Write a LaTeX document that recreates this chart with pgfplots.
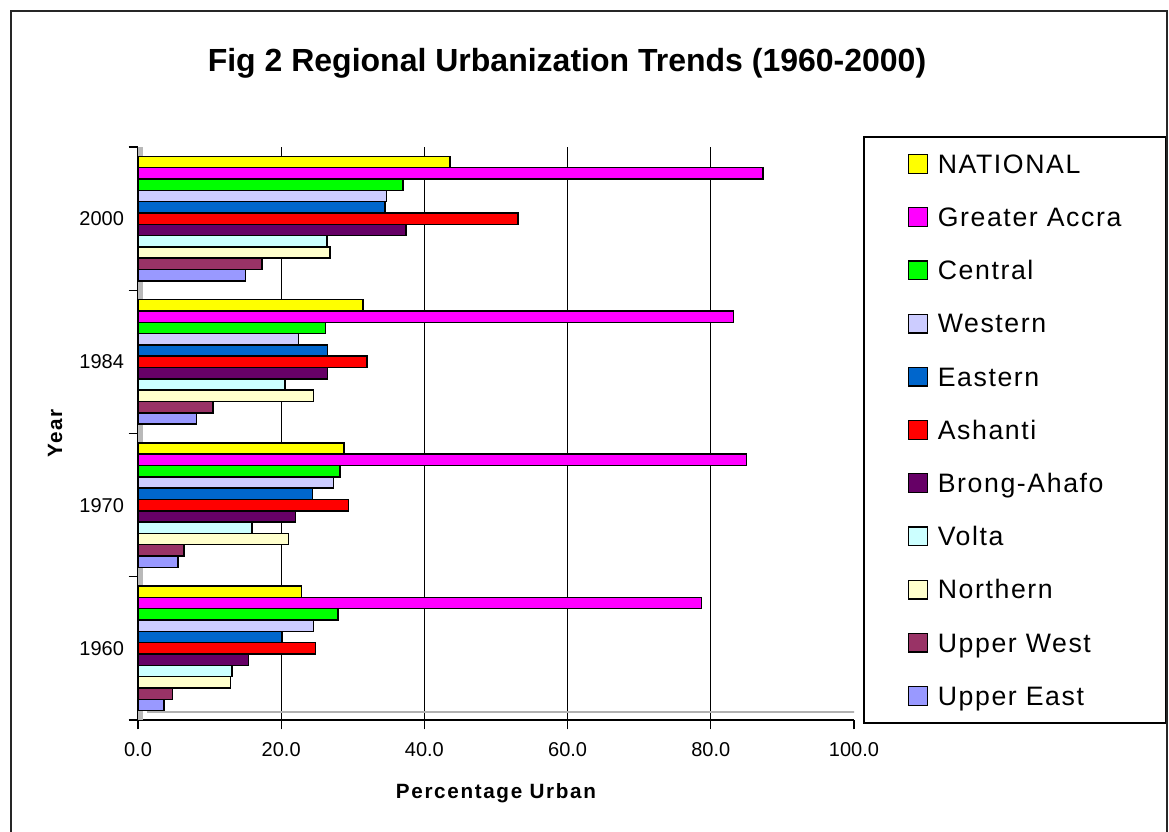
\documentclass[border=0pt]{standalone}
\usepackage{fontspec}
\setmainfont{Liberation Sans}
\usepackage{pgfplots}
\usepackage{pgfplotstable}
\pgfplotsset{compat=1.18}

\definecolor{cNAT}{HTML}{FFFF00}
\definecolor{cGA}{HTML}{FF00FF}
\definecolor{cCEN}{HTML}{00FF00}
\definecolor{cWES}{HTML}{CCCCFF}
\definecolor{cEAS}{HTML}{0066CC}
\definecolor{cASH}{HTML}{FF0000}
\definecolor{cBA}{HTML}{660066}
\definecolor{cVOL}{HTML}{CCFFFF}
\definecolor{cNOR}{HTML}{FFFFCC}
\definecolor{cUW}{HTML}{993366}
\definecolor{cUE}{HTML}{9999FF}

% year index: 0=1960, 1=1970, 2=1984, 3=2000
\pgfplotstableread{
year NAT  GA   CEN  WES  EAS  ASH  BA   VOL  NOR  UW   UE
0    22.8 78.7 27.9 24.5 20.1 24.8 15.4 13.1 12.9 4.8  3.6
1    28.8 85.0 28.2 27.3 24.4 29.4 22.0 15.9 21.0 6.4  5.6
2    31.4 83.2 26.2 22.4 26.5 32.0 26.5 20.5 24.5 10.5 8.2
3    43.6 87.3 37.0 34.7 34.5 53.1 37.4 26.4 26.8 17.3 15.0
}\datatable

\begin{document}
\begin{tikzpicture}[x=0.75pt,y=0.75pt]
\useasboundingbox (0,0) rectangle (1169,831);
\draw[line width=1.5pt, black!85] (11,-10) -- (11,820) -- (1166.5,820) -- (1166.5,-10);
\node[font=\bfseries\fontsize{24}{28}\selectfont] at (567,768) {Fig 2 Regional Urbanization Trends (1960-2000)};

\begin{axis}[
  at={(103.5pt,83.25pt)}, anchor=south west,
  scale only axis, width=537pt, height=429.75pt,
  xbar, bar width=0.079,
  xmin=0, xmax=100, ymin=-0.5, ymax=3.5,
  axis x line*=bottom, axis y line*=left,
  axis line style={black, line width=1.2pt},
  xtick={0,20,...,100},
  xticklabel style={/pgf/number format/.cd, fixed, fixed zerofill, precision=1, assume math mode=true, /tikz/yshift=-6pt},
  ytick={-0.5,0.5,1.5,2.5,3.5},
  yticklabels={1960,1970,1984,2000},
  y tick label as interval,
  tick align=outside,
  major tick length=7pt,
  tick style={black, line width=1pt},
  tick label style={font=\fontsize{15}{18}\selectfont},
  extra x ticks={20,40,60,80},
  extra x tick labels={},
  extra x tick style={grid=major, tick style={draw=none}},
  grid style={black, line width=1pt},
  every axis plot/.append style={draw=black, line width=1.1pt},
  xlabel={Percentage Urban},
  ylabel={Year},
  label style={font=\bfseries\fontsize{15.5}{18}\selectfont\addfontfeature{LetterSpace=8}},
  xlabel style={at={(rel axis cs:0.5,-0.1274)}, anchor=center},
  ylabel style={at={(rel axis cs:-0.1159,0.5)}, anchor=center},
  legend cell align=left,
  legend image code/.code={\draw[#1, draw=black, line width=1pt] (0pt,-7pt) rectangle (14pt,7pt);},
  legend style={at={(rel axis cs:1.0126,1.019)}, anchor=north west,
    draw=black, line width=1.2pt,
    inner xsep=33pt, inner ysep=10.25pt,
    row sep=19.9pt, column sep=7.5pt,
    font=\fontsize{20}{24}\selectfont\addfontfeature{LetterSpace=6},
    nodes={inner sep=0pt, text height=17pt, text depth=3pt}},
]
\fill[gray!55] (axis cs:0,-0.5) rectangle (axis cs:0.7,3.5);
\draw[gray!60, line width=1pt] (rel axis cs:0.012,1.007) -- (rel axis cs:1.01,1.007);
\draw[gray!60, line width=1pt] (rel axis cs:0.012,0.014) -- (rel axis cs:1.01,0.014);
\addplot[fill=cNAT, bar shift=0.395]  table[x=NAT, y=year] {\datatable};
\addplot[fill=cGA,  bar shift=0.316]  table[x=GA,  y=year] {\datatable};
\addplot[fill=cCEN, bar shift=0.237]  table[x=CEN, y=year] {\datatable};
\addplot[fill=cWES, bar shift=0.158]  table[x=WES, y=year] {\datatable};
\addplot[fill=cEAS, bar shift=0.079]  table[x=EAS, y=year] {\datatable};
\addplot[fill=cASH, bar shift=0]      table[x=ASH, y=year] {\datatable};
\addplot[fill=cBA,  bar shift=-0.079] table[x=BA,  y=year] {\datatable};
\addplot[fill=cVOL, bar shift=-0.158] table[x=VOL, y=year] {\datatable};
\addplot[fill=cNOR, bar shift=-0.237] table[x=NOR, y=year] {\datatable};
\addplot[fill=cUW,  bar shift=-0.316] table[x=UW,  y=year] {\datatable};
\addplot[fill=cUE,  bar shift=-0.395] table[x=UE,  y=year] {\datatable};
\legend{NATIONAL, Greater Accra, Central, Western, Eastern, Ashanti, Brong-Ahafo, Volta, Northern, Upper West, Upper East}
\end{axis}
\end{tikzpicture}
\end{document}
